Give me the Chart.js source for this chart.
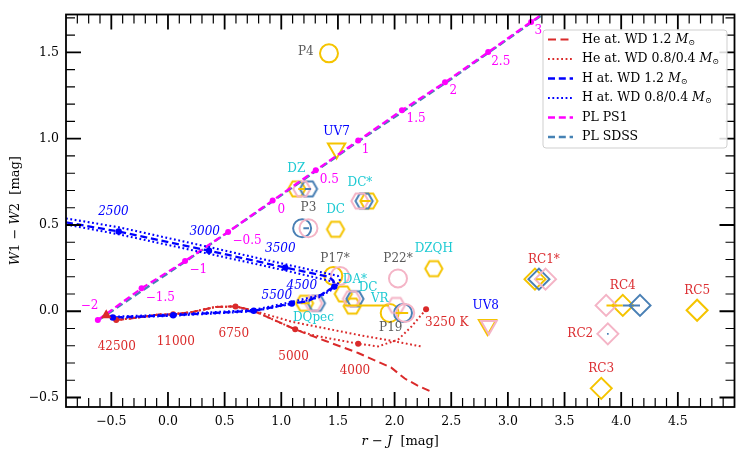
<!DOCTYPE html>
<html><head><meta charset="utf-8">
<script src="https://cdn.jsdelivr.net/npm/chart.js@4.4.0/dist/chart.umd.min.js"></script>
<style>html,body{margin:0;padding:0;background:#fff;}canvas{display:block;}</style>
</head><body>
<canvas id="c" width="747" height="456"></canvas>
<script>
// ---------- axis ticks ----------
const xTicks = [-0.5, 0, 0.5, 1, 1.5, 2, 2.5, 3, 3.5, 4, 4.5];
const yTicks = [-0.5, 0, 0.5, 1, 1.5];

// ---------- PL PS1 / PL SDSS ----------
const ps1X = [-0.619, -0.233, 0.151, 0.531, 0.924, 1.304, 1.679, 2.065, 2.445, 2.826, 3.205, 3.585];
const ps1Y = [-0.051, 0.133, 0.291, 0.460, 0.642, 0.817, 0.989, 1.165, 1.327, 1.502, 1.677, 1.852];
const ps1Names = ['−2', '−1.5', '−1', '−0.5', '0', '0.5', '1', '1.5', '2', '2.5', '3'];
const ps1LabelX = [-0.692, -0.068, 0.268, 0.698, 1.000, 1.424, 1.743, 2.190, 2.519, 2.937, 3.268];
const ps1LabelY = [0.034, 0.078, 0.240, 0.405, 0.589, 0.760, 0.937, 1.114, 1.280, 1.445, 1.627];
const sdssX = [-0.610, 0.151, 0.924, 1.679, 2.445, 2.826, 3.585];
const sdssY = [-0.050, 0.287, 0.637, 0.984, 1.321, 1.497, 1.848];

// ---------- H atmosphere tracks ----------
const hDashX = [-0.9, -0.435, 0.362, 1.035, 1.418, 1.459, 1.468, 1.342, 1.225, 1.093, 0.757, 0.046, -0.487];
const hDashY = [0.515, 0.462, 0.351, 0.253, 0.200, 0.177, 0.143, 0.091, 0.057, 0.045, 0.003, -0.023, -0.036];
const hDotAX = [-0.9, -0.435, 0.362, 1.038, 1.500, 1.520, 1.470, 1.350, 1.100, 0.757, 0.046, -0.487];
const hDotAY = [0.538, 0.487, 0.372, 0.272, 0.205, 0.175, 0.140, 0.095, 0.055, 0.008, -0.018, -0.032];
const hDotBX = [-0.9, -0.435, 0.362, 1.038, 1.470, 1.490, 1.460, 1.330, 1.090, 0.757, 0.046, -0.487];
const hDotBY = [0.503, 0.446, 0.333, 0.236, 0.170, 0.150, 0.130, 0.080, 0.042, 0.000, -0.026, -0.040];
const hPtX = [-0.435, 0.362, 1.035, 1.468, 1.093, 0.757, 0.046, -0.487];
const hPtY = [0.462, 0.351, 0.253, 0.143, 0.045, 0.003, -0.023, -0.036];
const hTempNames = ['2500', '3000', '3500', '4500', '5500'];
const hTempX = [-0.481, 0.324, 0.991, 1.181, 0.961];
const hTempY = [0.576, 0.462, 0.363, 0.148, 0.087];

// ---------- He atmosphere tracks ----------
const heDashX = [-0.457, -0.282, -0.077, 0.046, 0.215, 0.421, 0.596, 0.742, 1.123, 1.284, 1.386, 1.679, 1.971, 2.090, 2.200, 2.322];
const heDashY = [-0.051, -0.038, -0.019, -0.018, -0.004, 0.025, 0.028, 0.006, -0.105, -0.146, -0.171, -0.242, -0.327, -0.390, -0.430, -0.466];
const heDot1X = [-0.457, -0.282, -0.077, 0.046, 0.215, 0.421, 0.596, 0.742, 1.123, 1.269, 1.445, 1.679, 1.854, 2.030, 2.147, 2.278];
const heDot1Y = [-0.051, -0.038, -0.019, -0.018, -0.004, 0.025, 0.028, 0.006, -0.105, -0.137, -0.160, -0.188, -0.204, -0.165, -0.090, 0.011];
const heDot2X = [-0.457, -0.282, -0.077, 0.046, 0.215, 0.421, 0.596, 0.742, 1.093, 1.386, 1.679, 1.971, 2.234];
const heDot2Y = [-0.051, -0.038, -0.019, -0.018, -0.004, 0.025, 0.028, 0.006, -0.061, -0.099, -0.137, -0.171, -0.204];
const hePtX = [-0.457, 0.046, 0.596, 1.123, 1.679, 2.278];
const hePtY = [-0.051, -0.018, 0.028, -0.105, -0.188, 0.011];
const heStartX = [-0.545];
const heStartY = [-0.023];
const heTempNames = ['42500', '11000', '6750', '5000', '4000', '3250 K'];
const heTempX = [-0.452, 0.069, 0.581, 1.108, 1.650, 2.460];
const heTempY = [-0.209, -0.179, -0.131, -0.266, -0.346, -0.065];

// ---------- observed objects ----------
const goldCircleX = [1.421, 1.459, 1.957];
const goldCircleY = [1.495, 0.205, -0.010];
const pinkCircleX = [1.240, 1.518, 2.030, 2.094];
const pinkCircleY = [0.481, 0.205, 0.190, -0.010];
const blueCircleX = [1.184, 2.074];
const blueCircleY = [0.481, -0.010];
const goldHexX = [1.137, 1.773, 1.479, 1.547, 1.626, 2.346, 1.205];
const goldHexY = [0.709, 0.639, 0.475, 0.100, 0.030, 0.247, 0.046];
const pinkHexX = [1.181, 1.694, 1.620, 2.015, 1.284];
const pinkHexY = [0.709, 0.639, 0.072, 0.034, 0.046];
const blueHexX = [1.240, 1.731, 1.650, 1.310];
const blueHexY = [0.709, 0.639, 0.072, 0.046];
const goldTriX = [1.488, 2.820];
const goldTriY = [0.943, -0.080];
const pinkTriX = [2.832];
const pinkTriY = [-0.082];
const goldDiaX = [3.239, 4.014, 4.670, 3.824];
const goldDiaY = [0.186, 0.034, 0.006, -0.447];
const pinkDiaX = [3.332, 3.867, 3.882];
const pinkDiaY = [0.186, 0.034, -0.131];
const blueDiaX = [3.274, 4.166];
const blueDiaY = [0.186, 0.034];
const blueDotX = [3.882];
const blueDotY = [-0.131];
// horizontal error bars
const errLo = [1.150, 1.205, 1.700, 1.195, 1.560, 1.170, 2.010, 3.250, 3.870, 4.014];
const errHi = [1.205, 1.262, 1.790, 1.245, 1.950, 1.250, 2.120, 3.310, 4.014, 4.166];
const errY  = [0.709, 0.709, 0.639, 0.481, 0.034, 0.046, -0.010, 0.186, 0.034, 0.034];
const errGroup = ['gold', 'blue', 'gold', 'blue', 'gold', 'gold', 'gold', 'gold', 'gold', 'blue'];

const objNames = ['P4', 'UV7', 'DZ', 'DC*', 'P3', 'DC', 'P17*', 'P22*', 'DZQH', 'DA*', 'DC', 'VR', 'DQpec', 'P19', 'UV8', 'RC1*', 'RC4', 'RC5', 'RC2', 'RC3'];
const objKinds = ['P', 'UV', 'WD', 'WD', 'P', 'WD', 'P', 'P', 'WD', 'WD', 'WD', 'WD', 'WD', 'P', 'UV', 'RC', 'RC', 'RC', 'RC', 'RC'];
const objLabelX = [1.216, 1.488, 1.132, 1.694, 1.240, 1.479, 1.474, 2.030, 2.346, 1.650, 1.766, 1.869, 1.284, 1.966, 2.805, 3.318, 4.014, 4.670, 3.639, 3.824];
const objLabelY = [1.502, 1.038, 0.823, 0.742, 0.599, 0.589, 0.304, 0.304, 0.361, 0.183, 0.133, 0.072, -0.038, -0.094, 0.034, 0.300, 0.148, 0.120, -0.131, -0.333];

// ---------- styling ----------
const RED = '#DA2A2A', BLUE = '#0000FF', MAG = '#FF00FF', STEEL = '#4682B4';
const GOLD = '#F5C400', PINK = '#F4B4C6', SBLUE = '#4A80B5';
const GRAY = '#5a5a5a', CYAN = '#1ECAD3', RCRED = '#DC2E32';
const SERIF = '"DejaVu Serif", serif';
const kindColor = {P: GRAY, UV: BLUE, WD: CYAN, RC: RCRED};
const groupColor = {gold: GOLD, blue: SBLUE, pink: PINK};

const xy = (xs, ys) => xs.map((v, i) => ({x: v, y: ys[i]}));

function hexImg(color) {
  const r = 8.6, lw = 2, s = 24;
  const c = document.createElement('canvas'); c.width = s; c.height = s;
  const g = c.getContext('2d'); g.strokeStyle = color; g.lineWidth = lw; g.lineJoin = 'miter';
  g.beginPath();
  for (let k = 0; k < 6; k++) {
    const t = k * Math.PI / 3;
    const px = s / 2 + r * Math.cos(t), py = s / 2 + r * Math.sin(t);
    if (k) g.lineTo(px, py); else g.moveTo(px, py);
  }
  g.closePath(); g.stroke();
  return c;
}

function lineDS(label, xs, ys, color, dash, width, order) {
  return {label, data: xy(xs, ys), showLine: true, borderColor: color, borderWidth: width,
    borderDash: dash, borderCapStyle: 'butt', pointRadius: 0, fill: false, tension: 0, order};
}
function ptsDS(xs, ys, color, r, order, style) {
  return {data: xy(xs, ys), showLine: false, pointRadius: r, pointStyle: style || 'circle',
    pointBackgroundColor: color, pointBorderColor: color, pointBorderWidth: 0, order};
}
function markDS(xs, ys, color, style, r, rot, order) {
  return {data: xy(xs, ys), showLine: false, pointStyle: style, pointRadius: r, pointRotation: rot || 0,
    pointBorderColor: color, pointBackgroundColor: 'rgba(0,0,0,0)', pointBorderWidth: 2, order};
}

const DASH = [7, 3.8], DOT = [1.8, 2.6];
const datasets = [];
// markers (lowest layer)
datasets.push(markDS(goldCircleX, goldCircleY, GOLD, 'circle', 9, 0, 9));
datasets.push(markDS(pinkCircleX, pinkCircleY, PINK, 'circle', 9, 0, 8));
datasets.push(markDS(blueCircleX, blueCircleY, SBLUE, 'circle', 9, 0, 8.5));
datasets.push(markDS(goldHexX, goldHexY, GOLD, hexImg(GOLD), 9, 0, 9));
datasets.push(markDS(blueHexX, blueHexY, SBLUE, hexImg(SBLUE), 9, 0, 8.6));
datasets.push(markDS(pinkHexX, pinkHexY, PINK, hexImg(PINK), 9, 0, 8.4));
datasets.push(markDS(goldTriX, goldTriY, GOLD, 'triangle', 10, 180, 9));
datasets.push(markDS(pinkTriX, pinkTriY, PINK, 'triangle', 9, 180, 8));
datasets.push(markDS(goldDiaX, goldDiaY, GOLD, 'rectRot', 10.5, 0, 9));
datasets.push(markDS(blueDiaX, blueDiaY, SBLUE, 'rectRot', 10.5, 0, 8.6));
datasets.push(markDS(pinkDiaX, pinkDiaY, PINK, 'rectRot', 10.5, 0, 8.4));
datasets.push(ptsDS(blueDotX, blueDotY, SBLUE, 1.2, 7, 'rect'));
// error bars
errLo.forEach((lo, i) => {
  datasets.push(lineDS('', [lo, errHi[i]], [errY[i], errY[i]], groupColor[errGroup[i]], [], 2, 7.5));
});
// model tracks
datasets.push(lineDS('PL SDSS', sdssX, sdssY, STEEL, DASH, 2.3, 4));
datasets.push(lineDS('PL PS1', ps1X, ps1Y, MAG, DASH, 2.3, 3));
datasets.push(lineDS('He at. WD 1.2', heDashX, heDashY, RED, [8, 4.5], 2, 3));
datasets.push(lineDS('He at. WD 0.8/0.4', heDot1X, heDot1Y, RED, DOT, 2, 3));
datasets.push(lineDS('', heDot2X, heDot2Y, RED, DOT, 2, 3));
datasets.push(lineDS('H at. WD 1.2', hDashX, hDashY, BLUE, DASH, 2.3, 2));
datasets.push(lineDS('H at. WD 0.8/0.4', hDotAX, hDotAY, BLUE, DOT, 2.1, 2));
datasets.push(lineDS('', hDotBX, hDotBY, BLUE, DOT, 2.1, 2));
// track knots
datasets.push(ptsDS(ps1X, ps1Y, MAG, 3, 1));
datasets.push(ptsDS(hePtX, hePtY, RED, 3, 1));
datasets.push(ptsDS(hPtX, hPtY, BLUE, 3.2, 0.5));
datasets.push(ptsDS(heStartX, heStartY, RED, 6, 0.4, 'triangle'));

const legendOrder = ['He at. WD 1.2', 'He at. WD 0.8/0.4', 'H at. WD 1.2', 'H at. WD 0.8/0.4', 'PL PS1', 'PL SDSS'];
const legendSolar = [true, true, true, true, false, false];

function drawRich(ctx, parts, x, y) {
  for (const p of parts) {
    ctx.font = p.font;
    ctx.fillText(p.t, x, y + (p.dy || 0));
    x += ctx.measureText(p.t).width;
  }
}
function richWidth(ctx, parts) {
  let w = 0;
  for (const p of parts) { ctx.font = p.font; w += ctx.measureText(p.t).width; }
  return w;
}

const framePlugin = {
  id: 'frame',
  afterDraw(chart) {
    const {ctx, chartArea: a, scales: {x, y}} = chart;
    ctx.save();
    ctx.strokeStyle = '#000';
    // x ticks (bottom and top, inward)
    for (let i = -8; i <= 49; i++) {
      const v = i / 10, px = x.getPixelForValue(v);
      const major = (i % 5 === 0);
      const len = major ? 15 : 9;
      ctx.lineWidth = major ? 1.8 : 1.2;
      ctx.beginPath();
      ctx.moveTo(px, a.bottom); ctx.lineTo(px, a.bottom - len);
      ctx.moveTo(px, a.top); ctx.lineTo(px, a.top + len);
      ctx.stroke();
    }
    for (let i = -5; i <= 17; i++) {
      const v = i / 10, py = y.getPixelForValue(v);
      const major = (i % 5 === 0);
      const len = major ? 15 : 9;
      ctx.lineWidth = major ? 1.8 : 1.2;
      ctx.beginPath();
      ctx.moveTo(a.left, py); ctx.lineTo(a.left + len, py);
      ctx.moveTo(a.right, py); ctx.lineTo(a.right - len, py);
      ctx.stroke();
    }
    ctx.lineWidth = 1.8;
    ctx.strokeRect(a.left, a.top, a.right - a.left, a.bottom - a.top);

    // axis titles
    ctx.fillStyle = '#000';
    ctx.textBaseline = 'middle';
    const it = 'italic 13px ' + SERIF, rm = '13px ' + SERIF;
    const xt = [{t: 'r', font: it}, {t: ' − ', font: rm}, {t: 'J', font: it}, {t: '  [mag]', font: rm}];
    const xw = richWidth(ctx, xt);
    drawRich(ctx, xt, (a.left + a.right) / 2 - xw / 2, 442);
    const yt = [{t: 'W', font: it}, {t: '1 − ', font: rm}, {t: 'W', font: it}, {t: '2  [mag]', font: rm}];
    const yw = richWidth(ctx, yt);
    ctx.save();
    ctx.translate(16, (a.top + a.bottom) / 2);
    ctx.rotate(-Math.PI / 2);
    drawRich(ctx, yt, -yw / 2, 0);
    ctx.restore();

    // legend
    const lx = 543, ly = 30, lw = 184, lh = 118;
    ctx.beginPath();
    if (ctx.roundRect) ctx.roundRect(lx, ly, lw, lh, 3); else ctx.rect(lx, ly, lw, lh);
    ctx.fillStyle = 'rgba(255,255,255,0.85)';
    ctx.fill();
    ctx.strokeStyle = '#cfcfcf'; ctx.lineWidth = 1;
    ctx.stroke();
    legendOrder.forEach((name, k) => {
      const ds = chart.data.datasets.find(d => d.label === name);
      const yy = 39.5 + k * 19.5;
      ctx.save();
      ctx.strokeStyle = ds.borderColor; ctx.lineWidth = ds.borderWidth;
      ctx.setLineDash(ds.borderDash || []);
      ctx.beginPath(); ctx.moveTo(548, yy); ctx.lineTo(573, yy); ctx.stroke();
      ctx.restore();
      ctx.fillStyle = '#000';
      ctx.textBaseline = 'middle';
      const parts = [{t: name + (legendSolar[k] ? ' ' : ''), font: '12.5px ' + SERIF}];
      if (legendSolar[k]) {
        parts.push({t: 'M', font: 'italic 12.5px ' + SERIF});
        parts.push({t: '⊙', font: '8px ' + SERIF, dy: 3});
      }
      drawRich(ctx, parts, 582, yy);
    });
    ctx.restore();
  }
};

const labelPlugin = {
  id: 'annot',
  afterDatasetsDraw(chart) {
    const {ctx, scales: {x, y}} = chart;
    ctx.save();
    ctx.textAlign = 'center';
    ctx.textBaseline = 'middle';
    const put = (names, xs, ys, colorOf, font) => names.forEach((n, i) => {
      ctx.fillStyle = colorOf(i); ctx.font = font;
      ctx.fillText(n, x.getPixelForValue(xs[i]), y.getPixelForValue(ys[i]));
    });
    put(ps1Names, ps1LabelX, ps1LabelY, () => MAG, '12px ' + SERIF);
    put(hTempNames, hTempX, hTempY, () => BLUE, 'italic 12px ' + SERIF);
    put(heTempNames, heTempX, heTempY, () => RED, '12px ' + SERIF);
    put(objNames, objLabelX, objLabelY, i => kindColor[objKinds[i]], '12px ' + SERIF);
    ctx.restore();
  }
};

const fmt = v => (v < 0 ? '−' : '') + Math.abs(v).toFixed(1);

new Chart(document.getElementById('c'), {
  type: 'scatter',
  data: {datasets},
  options: {
    responsive: false,
    animation: false,
    devicePixelRatio: 1,
    events: [],
    layout: {padding: {left: 0, right: 9, top: 7, bottom: 0}},
    plugins: {legend: {display: false}, tooltip: {enabled: false}},
    scales: {
      x: {
        type: 'linear', min: -0.9, max: 5.0,
        afterBuildTicks: s => { s.ticks = xTicks.map(v => ({value: v})); },
        afterFit: s => { s.height = 49; },
        ticks: {callback: v => fmt(v), color: '#000', font: {family: SERIF, size: 12.5}, padding: 7, maxRotation: 0, autoSkip: false},
        grid: {display: false, drawTicks: false},
        border: {display: false}
      },
      y: {
        type: 'linear', min: -0.555, max: 1.72,
        afterBuildTicks: s => { s.ticks = yTicks.map(v => ({value: v})); },
        afterFit: s => { s.width = 66; },
        ticks: {callback: v => fmt(v), color: '#000', font: {family: SERIF, size: 12.5}, padding: 7, autoSkip: false},
        grid: {display: false, drawTicks: false},
        border: {display: false}
      }
    }
  },
  plugins: [framePlugin, labelPlugin]
});
</script>
</body></html>
